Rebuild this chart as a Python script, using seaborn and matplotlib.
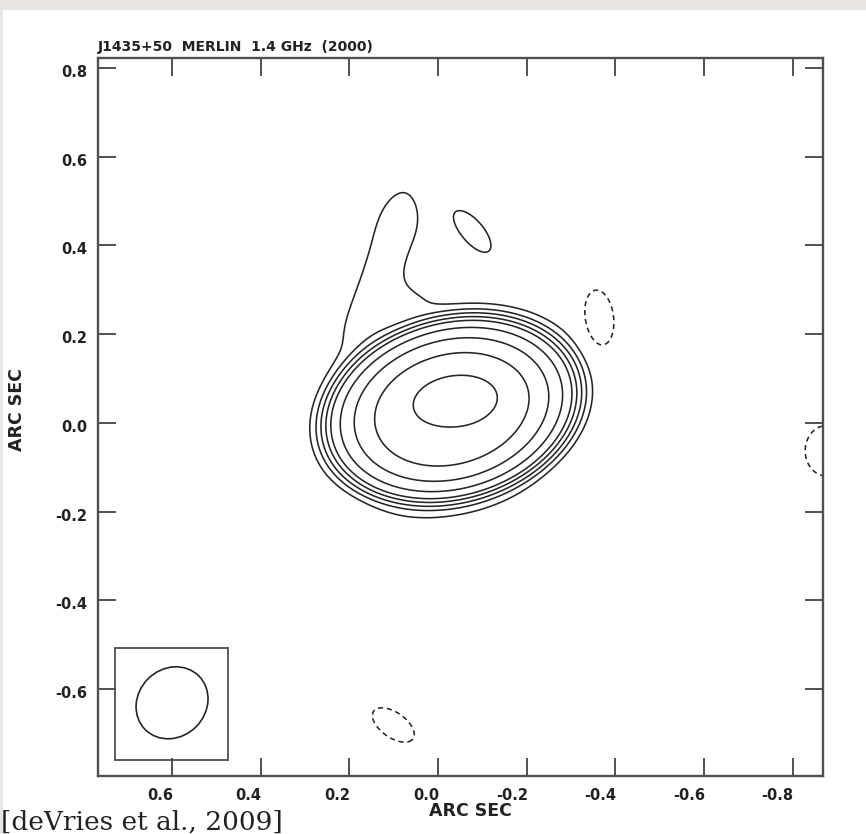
import numpy as np
import pandas as pd
import matplotlib
matplotlib.use("Agg")
import matplotlib.pyplot as plt
import matplotlib.transforms as mtransforms
from matplotlib.patches import Ellipse, Rectangle
import seaborn as sns

# ---------------- data ----------------
title = "J1435+50  MERLIN  1.4 GHz  (2000)"
citation = "[deVries et al., 2009]"
axis_label = "ARC SEC"

x_ticks = [0.6, 0.4, 0.2, 0.0, -0.2, -0.4, -0.6, -0.8]
x_tick_labels = ["0.6", "0.4", "0.2", "0.0", "-0.2", "-0.4", "-0.6", "-0.8"]
y_ticks = [0.8, 0.6, 0.4, 0.2, 0.0, -0.2, -0.4, -0.6]
y_tick_labels = ["0.8", "0.6", "0.4", "0.2", "0.0", "-0.2", "-0.4", "-0.6"]
x_limits = (0.767, -0.868)
y_limits = (-0.796, 0.8225)

# main source components (arcsec): offset, peak, sigma along / across, position angle (deg), profile power
main_x = [-0.030, -0.045]
main_y = [0.030, 0.058]
main_peak = [1.0, 0.30]
main_smaj = [0.171, 0.070]
main_smin = [0.120, 0.038]
main_pa = [15.0, 5.0]
main_power = [4.0, 2.0]

# where each positive contour crosses the cut at dec = +0.04 on the east side (outermost first)
cut_dec = 0.04
cut_ra = [0.282, 0.268, 0.257, 0.246, 0.235, 0.214, 0.183, 0.138, 0.056]

# faint features (arm, arm tip, bridge, arm base, southern skirt, knot, negative holes),
# amplitude in units of the lowest contour
faint_x = [0.135, 0.075, -0.030, 0.060, -0.020, -0.078, -0.363, 0.101, -0.875]
faint_y = [0.303, 0.455, 0.205, 0.270, -0.195, 0.431, 0.236, -0.681, -0.063]
faint_amp = [1.6, 0.45, 0.9, 0.7, 0.7, 1.7, -2.0, -2.0, -2.0]
faint_smaj = [0.190, 0.050, 0.160, 0.045, 0.170, 0.055, 0.055, 0.046, 0.048]
faint_smin = [0.044, 0.050, 0.055, 0.030, 0.035, 0.024, 0.029, 0.024, 0.040]
faint_pa = [75.0, 0.0, 0.0, 0.0, 10.0, -50.0, 97.5, -35.0, 90.0]

# restoring beam
beam_x, beam_y = 0.600, -0.631
beam_major, beam_minor, beam_pa = 0.171, 0.153, 45.0
beam_box_x = (0.4735, 0.728)
beam_box_y = (-0.760, -0.507)


# ---------------- model ----------------
def blob(X, Y, x0, y0, amp, smaj, smin, pa, power=2.0):
    u = -(X - x0)           # east to the left: screen-right positive
    v = Y - y0
    t = np.deg2rad(pa)
    up = u * np.cos(t) + v * np.sin(t)
    vp = -u * np.sin(t) + v * np.cos(t)
    rho2 = up ** 2 / smaj ** 2 + vp ** 2 / smin ** 2
    return amp * np.exp(-0.5 * rho2 ** (power / 2.0))


def main_field(X, Y):
    return sum(blob(X, Y, *c) for c in zip(main_x, main_y, main_peak, main_smaj,
                                           main_smin, main_pa, main_power))


def faint_field(X, Y):
    return sum(blob(X, Y, *c) for c in zip(faint_x, faint_y, faint_amp, faint_smaj,
                                           faint_smin, faint_pa))


cx = np.array(cut_ra)
cy = np.full_like(cx, cut_dec)
lowest = main_field(cx[0], cy[0]) / (1.0 - faint_field(cx[0], cy[0]))
levels = np.sort(main_field(cx, cy) + lowest * faint_field(cx, cy))

gx = np.linspace(-1.0, 0.85, 740)
gy = np.linspace(-0.85, 0.86, 690)
X, Y = np.meshgrid(gx, gy)
Z = main_field(X, Y) + lowest * faint_field(X, Y)

# ---------------- style ----------------
sns.set_theme(style="ticks")
plt.rcParams["font.family"] = ["DejaVu Sans"]
plt.rcParams["font.weight"] = "bold"

frame_col = "#505050"
line_col = "#262626"

fig = plt.figure(figsize=(8.66, 8.34), dpi=100)
fig.patch.set_facecolor("white")
fig.add_artist(Rectangle((0, 1 - 10 / 834), 1, 10 / 834, transform=fig.transFigure,
                         facecolor="#e9e6e1", edgecolor="none", zorder=-5))
fig.add_artist(Rectangle((0, 0), 3 / 866, 1, transform=fig.transFigure,
                         facecolor="#e9e6e1", edgecolor="none", zorder=-5))

ax = fig.add_axes([98 / 866, 58 / 834, 725 / 866, 718 / 834])
ax.set_facecolor("white")

ax.contour(X, Y, Z, levels=levels, colors=line_col, linewidths=1.15)
ax.contour(X, Y, Z, levels=[-lowest], colors=line_col, linewidths=1.15,
           linestyles=[(0, (3.2, 2.4))])

ax.add_patch(Rectangle((beam_box_x[0], beam_box_y[0]), beam_box_x[1] - beam_box_x[0],
                       beam_box_y[1] - beam_box_y[0], fill=False, edgecolor=frame_col, lw=1.3))
ax.add_patch(Ellipse((beam_x, beam_y), beam_major, beam_minor, angle=180 - beam_pa,
                     fill=False, edgecolor=line_col, lw=1.2))

ax.set_xlim(*x_limits)
ax.set_ylim(*y_limits)
ax.set_xticks(x_ticks)
ax.set_xticklabels(x_tick_labels, ha="right")
ax.set_yticks(y_ticks)
ax.set_yticklabels(y_tick_labels)
ax.tick_params(direction="in", length=13, width=1.4, color=frame_col, top=True, right=True,
               labelsize=10.5, labelcolor="#222222")
ax.tick_params(axis="x", pad=8.5)
ax.tick_params(axis="y", pad=7.9)
for lab in ax.get_xticklabels():
    lab.set_transform(lab.get_transform() + mtransforms.ScaledTranslation(1 / 100, 0, fig.dpi_scale_trans))
    lab.set_fontweight("bold")
for lab in ax.get_yticklabels():
    lab.set_transform(lab.get_transform() + mtransforms.ScaledTranslation(0, -3 / 100, fig.dpi_scale_trans))
    lab.set_fontweight("bold")
for s in ax.spines.values():
    s.set_color(frame_col)
    s.set_linewidth(1.7)

ax.set_xlabel(axis_label, fontsize=12.5, fontweight="bold", color="#222222", va="center")
ax.xaxis.set_label_coords((470 - 98) / 725, (776 - 811) / 718)
ax.set_ylabel(axis_label, fontsize=12.5, fontweight="bold", color="#222222", va="center")
ax.yaxis.set_label_coords((17 - 98) / 725, (776 - 410) / 718)

fig.text(98 / 866, (834 - 51) / 834, title, ha="left", va="baseline", fontsize=10,
         fontweight="bold", color="#222222")
fig.text(1 / 866, 4 / 834, citation, ha="left", va="baseline", fontsize=19,
         family=["DejaVu Serif"], fontweight="normal", color="#222222")

fig.savefig("out.png", dpi=100, facecolor="white")
